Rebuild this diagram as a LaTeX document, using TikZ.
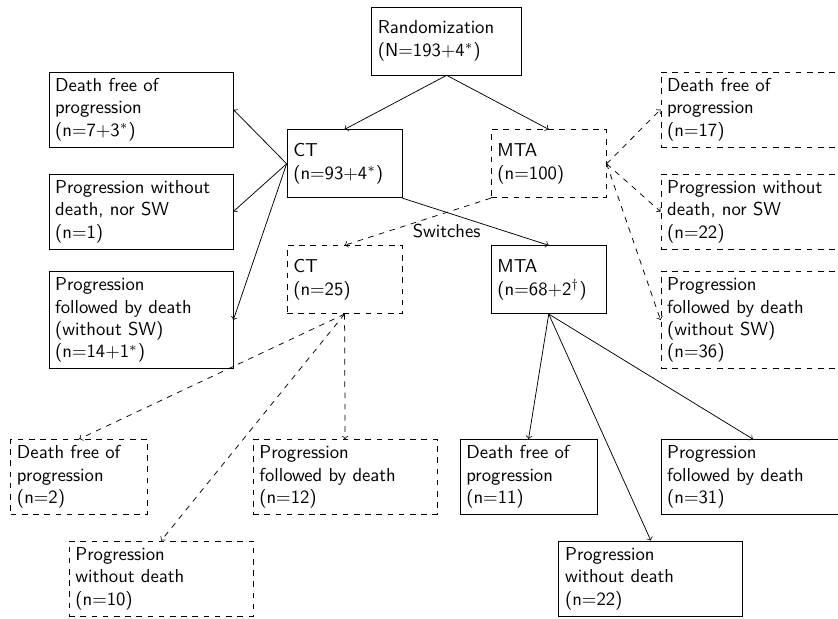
\documentclass[tikz,border=0pt]{standalone}
\usepackage{amssymb, amsmath}
\usepackage{tikz}
\tikzset{every node/.append style={font=\sffamily, align=left}}
\tikzset{
    widebox/.style={draw, text width=91.8pt},
    narrowbox/.style={draw, text width=66.6pt},
    armbox/.style={draw, text width=54.9pt, minimum height=36.4pt},
    rootbox/.style={draw, text width=73.6pt, minimum height=36.4pt}
}

\begin{document}
\begin{tikzpicture}
  \useasboundingbox (0cm, 0cm) rectangle (15.76cm, -11.64cm);
  \node (rand) [rootbox] at (8.40cm, -0.77cm) {Randomization\\(N=193+4$^*$)};
  \node (ct) [armbox] at (6.48cm, -3.08cm) {CT\\(n=93+4$^*$)};
  \node (mta) [armbox, dashed] at (10.32cm, -3.08cm) {MTA\\(n=100)};
  \node (ct_sw) [armbox, dashed] at (6.48cm, -5.26cm) {CT\\(n=25)};
  \node (mta_sw) [armbox] at (10.32cm, -5.26cm) {MTA\\(n=68+2$^\dagger$)};
  \node (sw) at (8.40cm, -4.34cm) {Switches};

  % CT arm
  \node (ct_d) [widebox] at (2.65cm, -2.06cm) {Death free of\\progression\\(n=7+3$^*$)};
  \node (ct_p) [widebox] at (2.65cm, -3.98cm) {Progression without\\death, nor SW\\(n=1)};
  \node (ct_pd) [widebox] at (2.65cm, -6.02cm) {Progression\\followed by death\\(without SW)\\(n=14+1$^*$)};

  % MTA arm
  \node (mta_d) [widebox, dashed] at (14.16cm, -2.06cm) {Death free of\\progression\\(n=17)};
  \node (mta_p) [widebox, dashed] at (14.16cm, -3.98cm) {Progression without\\death, nor SW\\(n=22)};
  \node (mta_pd) [widebox, dashed] at (14.16cm, -6.02cm) {Progression\\followed by death\\(without SW)\\(n=36)};

  % after switch
  \node (ct_sw_d) [narrowbox, dashed] at (1.49cm, -8.97cm) {Death free of\\progression\\(n=2)};
  \node (ct_sw_pd) [widebox, dashed] at (6.49cm, -8.97cm) {Progression\\followed by death\\(n=12)};
  \node (ct_sw_p) [widebox, dashed] at (3.03cm, -10.88cm) {Progression\\without death\\(n=10)};
  \node (mta_sw_d) [narrowbox] at (9.94cm, -8.97cm) {Death free of\\progression\\(n=11)};
  \node (mta_sw_pd) [widebox] at (14.16cm, -8.97cm) {Progression\\followed by death\\(n=31)};
  \node (mta_sw_p) [widebox] at (12.24cm, -10.88cm) {Progression\\without death\\(n=22)};

  \draw (rand.south) edge [->] (ct.north);
  \draw (rand.south) edge [->] (mta.north);
  \draw (ct.west) edge [->] (ct_d.east);
  \draw (ct.west) edge [->] (ct_p.east);
  \draw (ct.west) edge [->] (ct_pd.east);
  \draw (mta.east) edge [->, dashed] (mta_d.west);
  \draw (mta.east) edge [->, dashed] (mta_p.west);
  \draw (mta.east) edge [->, dashed] (mta_pd.west);
  \draw (ct.south east) edge [->] (mta_sw.north);
  \draw (mta.south west) edge [->, dashed] (ct_sw.north);
  \draw (ct_sw.south) edge [->, dashed] (ct_sw_d.north);
  \draw (ct_sw.south) edge [->, dashed] (ct_sw_pd.north);
  \draw (ct_sw.south) edge [->, dashed] (ct_sw_p.north);
  \draw (mta_sw.south) edge [->] (mta_sw_d.north);
  \draw (mta_sw.south) edge [->] (mta_sw_pd.north);
  \draw (mta_sw.south) edge [->] (mta_sw_p.north);
\end{tikzpicture}
\end{document}
